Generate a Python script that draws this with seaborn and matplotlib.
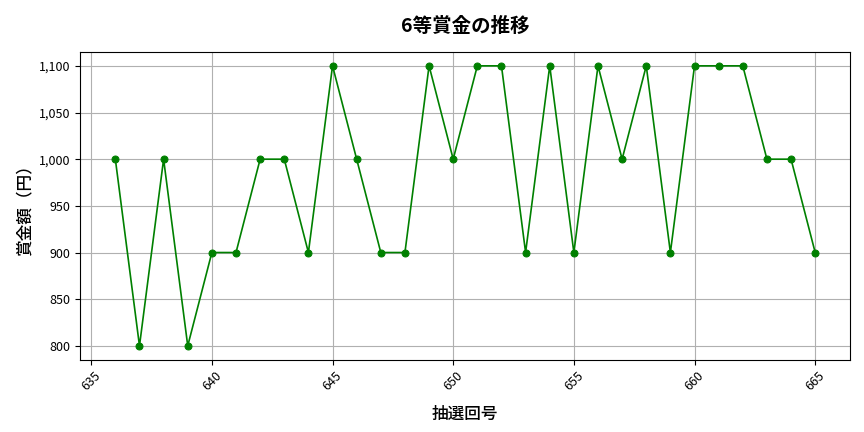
import matplotlib
matplotlib.use("Agg")
import matplotlib.pyplot as plt
import seaborn as sns
import pandas as pd
from matplotlib.ticker import FuncFormatter

# draw numbers and 6th prize amounts (yen)
draw_no = list(range(636, 666))
prize = [1000, 800, 1000, 800, 900, 900, 1000, 1000, 900, 1100,
         1000, 900, 900, 1100, 1000, 1100, 1100, 900, 1100, 900,
         1100, 1000, 1100, 900, 1100, 1100, 1100, 1000, 1000, 900]

df = pd.DataFrame({"draw": draw_no, "prize": prize})

sns.set_style("white")
plt.rcParams['font.family'] = ['Noto Sans CJK JP', 'DejaVu Sans']
plt.rcParams['text.color'] = 'black'
plt.rcParams['axes.labelcolor'] = 'black'
plt.rcParams['xtick.color'] = 'black'
plt.rcParams['ytick.color'] = 'black'

fig, ax = plt.subplots(figsize=(8.64, 4.32), dpi=100)
sns.lineplot(data=df, x="draw", y="prize", ax=ax, color="green",
             marker="o", markersize=5, markeredgecolor="green", linewidth=1.2)

ax.grid(True, color="#b0b0b0", linewidth=0.8)
ax.set_title("6等賞金の推移", fontsize=14, fontweight="bold", pad=14)
ax.set_xlabel("抽選回号", fontsize=12, fontweight="medium", labelpad=8)
ax.set_ylabel("賞金額（円）", fontsize=12, fontweight="medium")
ax.yaxis.set_major_formatter(FuncFormatter(lambda v, p: f"{int(v):,}"))
ax.tick_params(axis="x", labelrotation=45, labelsize=9)
ax.tick_params(axis="y", labelsize=9)
ax.tick_params(axis="both", which="major", length=3.5, direction="out", left=True, bottom=True)
for s in ax.spines.values():
    s.set_color("black")
    s.set_linewidth(0.8)

fig.subplots_adjust(left=0.093, right=0.984, top=0.88, bottom=0.167)
plt.savefig("out.png", dpi=100)
